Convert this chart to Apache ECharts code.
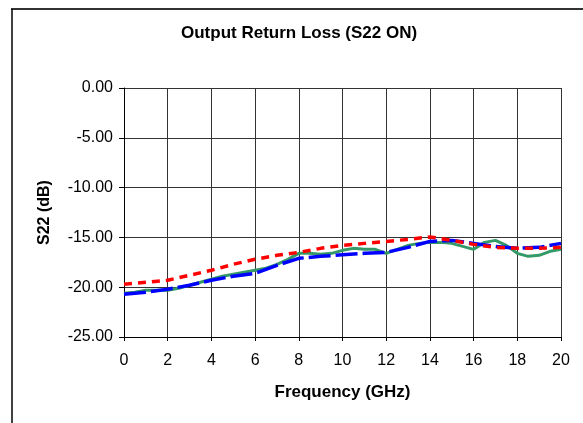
<!DOCTYPE html>
<html>
<head>
<meta charset="utf-8">
<script src="https://cdn.jsdelivr.net/npm/echarts@6/dist/echarts.min.js"></script>
<style>
html,body{margin:0;padding:0;background:#fff;}
#c{width:583px;height:423px;}
</style>
</head>
<body>
<div id="c"></div>
<script>
var titleText = 'Output Return Loss (S22 ON)';
var xName = 'Frequency (GHz)';
var yName = 'S22 (dB)';

var freqCoarse = [0,1,2,3,4,5,6,7,8,9,10,11,12,13,14,15,16,17,18,19,20];
var redValues = [-19.7,-19.5,-19.3,-18.8,-18.3,-17.7,-17.2,-16.8,-16.5,-16.1,-15.8,-15.6,-15.4,-15.2,-14.95,-15.3,-15.7,-16.0,-16.1,-16.1,-16.0];
var blueValues = [-20.7,-20.5,-20.2,-19.8,-19.3,-18.9,-18.6,-17.8,-17.1,-16.9,-16.75,-16.6,-16.5,-16.0,-15.4,-15.3,-15.6,-15.9,-16.1,-16.0,-15.6];

var freqFine = [0,0.5,1,1.5,2,2.5,3,3.5,4,4.5,5,5.5,6,6.5,7,7.5,8,8.5,9,9.5,10,10.5,11,11.5,12,12.5,13,13.5,14,14.5,15,15.5,16,16.5,17,17.5,18,18.5,19,19.5,20];
var greenValues = [-20.6,-20.5,-20.3,-20.3,-20.3,-20.1,-19.8,-19.5,-19.2,-18.9,-18.7,-18.5,-18.3,-18.1,-17.7,-17.2,-16.6,-16.6,-16.7,-16.6,-16.3,-16.1,-16.2,-16.2,-16.6,-16.2,-15.8,-15.6,-15.5,-15.5,-15.6,-15.9,-16.2,-15.5,-15.3,-15.8,-16.6,-16.9,-16.8,-16.4,-16.2];

function pairs(xs, ys){ return xs.map(function(x,i){ return [x, ys[i]]; }); }

var chart = echarts.init(document.getElementById('c'), null, {renderer:'canvas'});
var font = 'Arial, "Liberation Sans", sans-serif';
chart.setOption({
  animation:false,
  backgroundColor:'#fff',
  title:{
    text:titleText, left:176, top:20,
    textStyle:{fontFamily:font, fontSize:17, fontWeight:'bold', color:'#000'}
  },
  grid:{left:124, right:22, top:88, bottom:86},
  xAxis:{
    type:'value', min:0, max:20, interval:2,
    name:xName, nameLocation:'middle', nameGap:47,
    nameTextStyle:{fontFamily:font, fontSize:17, fontWeight:'bold', color:'#000'},
    axisLine:{show:true, onZero:false, lineStyle:{color:'#000', width:1}},
    axisTick:{show:true, length:4, lineStyle:{color:'#000'}},
    axisLabel:{fontFamily:font, fontSize:16, color:'#000', margin:16},
    splitLine:{show:true, lineStyle:{color:'#333', width:1}}
  },
  yAxis:{
    type:'value', min:-25, max:0, interval:5,
    name:yName, nameLocation:'middle', nameGap:71, nameRotate:90,
    nameTextStyle:{fontFamily:font, fontSize:16, fontWeight:'bold', color:'#000'},
    axisLine:{show:true, onZero:false, lineStyle:{color:'#000', width:1}},
    axisTick:{show:true, length:5, lineStyle:{color:'#000'}},
    axisLabel:{fontFamily:font, fontSize:16, color:'#000', margin:11,
      formatter:function(v){ return v.toFixed(2); }},
    splitLine:{show:true, lineStyle:{color:'#333', width:1}}
  },
  series:[
    {type:'line', name:'green', data:pairs(freqFine, greenValues), showSymbol:false,
      lineStyle:{color:'#339966', width:3, type:'solid'}, z:2},
    {type:'line', name:'blue', data:pairs(freqCoarse, blueValues), showSymbol:false,
      lineStyle:{color:'#0000FF', width:3.5, type:[22,5]}, z:3},
    {type:'line', name:'red', data:pairs(freqCoarse, redValues), showSymbol:false,
      lineStyle:{color:'#FF0000', width:3.5, type:[8,6]}, z:4}
  ],
  graphic:[
    {type:'line', shape:{x1:11, y1:9, x2:583, y2:9}, style:{stroke:'#333', lineWidth:2}},
    {type:'line', shape:{x1:12, y1:9, x2:12, y2:423}, style:{stroke:'#000', lineWidth:1.5}}
  ]
});
</script>
</body>
</html>
